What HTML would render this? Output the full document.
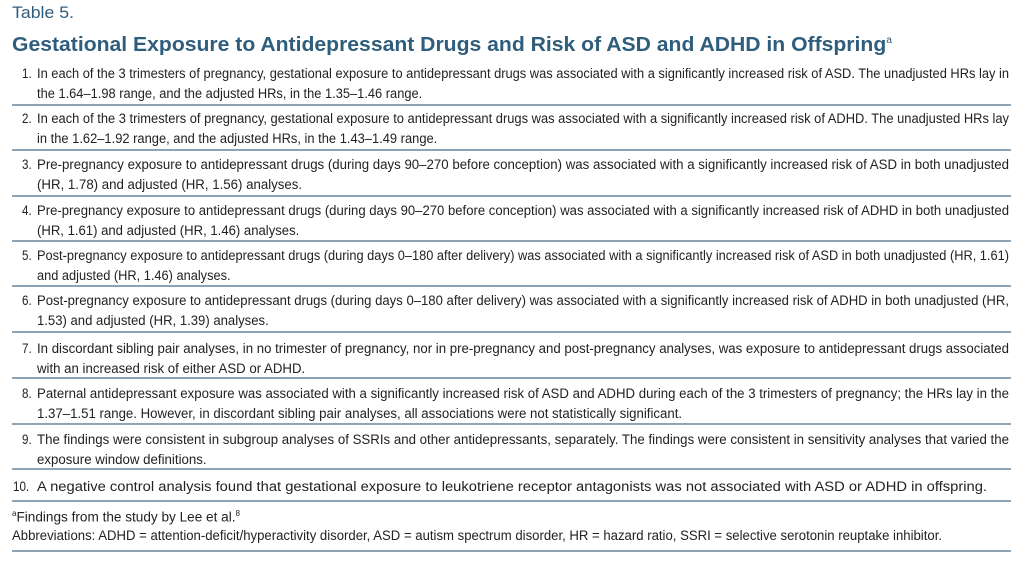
<!DOCTYPE html>
<html><head><meta charset="utf-8">
<style>
html,body{margin:0;padding:0;background:#fff;width:1024px;height:563px;overflow:hidden;position:relative;font-family:"Liberation Sans",sans-serif;}
.abs{position:absolute;white-space:nowrap;}
.cap{left:12px;top:3px;font-size:17px;color:#2f5d7c;transform-origin:0 0;}
.title{left:12px;top:33px;font-size:20.5px;font-weight:bold;color:#2f5d7c;transform-origin:0 0;}
.title sup{font-size:10px;font-weight:normal;}
.rule{position:absolute;left:12px;width:999px;height:2px;background:#8ea3b3;}
.num{position:absolute;font-size:13.5px;color:#222;transform-origin:0 0;transform:scaleX(0.86);}
.ln{position:absolute;font-size:13.5px;color:#222;white-space:nowrap;transform-origin:0 0;}
.foot{position:absolute;left:12px;font-size:13.5px;color:#222;white-space:nowrap;transform-origin:0 0;}
.foot sup{font-size:8px;}
</style></head><body>
<div class="abs cap" id="cap">Table 5.</div>
<div class="abs title" id="title">Gestational Exposure to Antidepressant Drugs and Risk of ASD and ADHD in Offspring<sup>a</sup></div>
<div id="rows"></div>
<div class="foot" id="f1" style="top:509px"><sup>a</sup>Findings from the study by Lee et al.<sup>8</sup></div>
<div class="foot" id="f2" style="top:528px">Abbreviations: ADHD = attention-deficit/hyperactivity disorder, ASD = autism spectrum disorder, HR = hazard ratio, SSRI = selective serotonin reuptake inhibitor.</div>
<div class="rule" style="top:550px"></div>
<script>
const rows=[
["In each of the 3 trimesters of pregnancy, gestational exposure to antidepressant drugs was associated with a significantly increased risk of ASD. The unadjusted HRs lay in","the 1.64–1.98 range, and the adjusted HRs, in the 1.35–1.46 range."],
["In each of the 3 trimesters of pregnancy, gestational exposure to antidepressant drugs was associated with a significantly increased risk of ADHD. The unadjusted HRs lay","in the 1.62–1.92 range, and the adjusted HRs, in the 1.43–1.49 range."],
["Pre-pregnancy exposure to antidepressant drugs (during days 90–270 before conception) was associated with a significantly increased risk of ASD in both unadjusted","(HR, 1.78) and adjusted (HR, 1.56) analyses."],
["Pre-pregnancy exposure to antidepressant drugs (during days 90–270 before conception) was associated with a significantly increased risk of ADHD in both unadjusted","(HR, 1.61) and adjusted (HR, 1.46) analyses."],
["Post-pregnancy exposure to antidepressant drugs (during days 0–180 after delivery) was associated with a significantly increased risk of ASD in both unadjusted (HR, 1.61)","and adjusted (HR, 1.46) analyses."],
["Post-pregnancy exposure to antidepressant drugs (during days 0–180 after delivery) was associated with a significantly increased risk of ADHD in both unadjusted (HR,","1.53) and adjusted (HR, 1.39) analyses."],
["In discordant sibling pair analyses, in no trimester of pregnancy, nor in pre-pregnancy and post-pregnancy analyses, was exposure to antidepressant drugs associated","with an increased risk of either ASD or ADHD."],
["Paternal antidepressant exposure was associated with a significantly increased risk of ASD and ADHD during each of the 3 trimesters of pregnancy; the HRs lay in the","1.37–1.51 range. However, in discordant sibling pair analyses, all associations were not statistically significant."],
["The findings were consistent in subgroup analyses of SSRIs and other antidepressants, separately. The findings were consistent in sensitivity analyses that varied the","exposure window definitions."],
["A negative control analysis found that gestational exposure to leukotriene receptor antagonists was not associated with ASD or ADHD in offspring."]
];
const tops=[66,111,157,203,248,293,341,386,432,479];
const rules=[104,149,195,240,285,331,377,423,468,500];
const box=document.getElementById('rows');
const textX=37, rightX=1011;
function fit(el,w){el.style.transform='scaleX('+(w/el.getBoundingClientRect().width)+')';}
rows.forEach((r,i)=>{
  const n=document.createElement('div');
  n.className='num';
  
  
  n.textContent=(i+1)+'.';
  n.style.left=(i==9?13:22)+'px';n.style.top=tops[i]+'px';
  box.appendChild(n);
  let scale=null;
  r.forEach((t,j)=>{
    const d=document.createElement('div');
    d.className='ln';
    
    
    d.textContent=t;
    d.style.left=textX+'px';d.style.top=(tops[i]+j*19.5)+'px';
    box.appendChild(d);
    const w=d.getBoundingClientRect().width;
    if(j==0 && r.length>1){scale=(rightX-textX-2)/w;}
    if(r.length==1){scale=(987-textX)/w;}
    d.style.transform='scaleX('+scale+')';
  });
  const ru=document.createElement('div');
  ru.className='rule';
  
  
  ru.style.top=rules[i]+'px';
  box.appendChild(ru);
});
fit(document.getElementById('title'),880);
fit(document.getElementById('cap'),62);
fit(document.getElementById('f1'),228);
fit(document.getElementById('f2'),930);
</script>
</body></html>
